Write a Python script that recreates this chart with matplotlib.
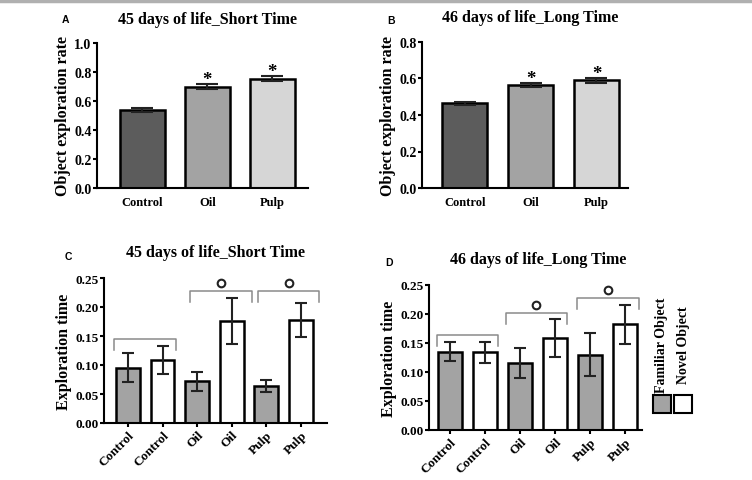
import matplotlib
matplotlib.use("Agg")
import matplotlib.pyplot as plt
from matplotlib.lines import Line2D
from matplotlib.patches import Rectangle

plt.rcParams['font.family'] = ['Liberation Serif', 'DejaVu Serif']
plt.rcParams['font.weight'] = 'bold'

# Panels A and B: exploration rate
groups = ["Control", "Oil", "Pulp"]
rate_short = [0.54, 0.70, 0.755]
rate_short_err = [0.015, 0.015, 0.015]
rate_long = [0.465, 0.565, 0.59]
rate_long_err = [0.008, 0.012, 0.015]
rate_colors = ["#5c5c5c", "#a3a3a3", "#d6d6d6"]

# Panels C and D: exploration time (familiar, novel per group)
time_labels = ["Control", "Control", "Oil", "Oil", "Pulp", "Pulp"]
time_short = [0.095, 0.109, 0.072, 0.176, 0.064, 0.178]
time_short_err = [0.025, 0.024, 0.016, 0.04, 0.011, 0.029]
time_long = [0.135, 0.134, 0.115, 0.159, 0.130, 0.182]
time_long_err = [0.016, 0.018, 0.026, 0.033, 0.037, 0.033]
time_colors = ["#a3a3a3", "white"] * 3

# brackets: (x start, x end, height, marked with circle)
brackets_short = [(-0.40, 1.38, 0.145, False), (1.79, 3.57, 0.228, True), (3.75, 5.53, 0.228, True)]
brackets_long = [(-0.37, 1.37, 0.163, False), (1.60, 3.34, 0.2025, True), (3.63, 5.40, 0.228, True)]

fig = plt.figure(figsize=(7.52, 4.81), dpi=100)
W, H = 752, 481


def px_axes(x0, y0, x1, y1):
    return fig.add_axes([x0 / W, 1 - y1 / H, (x1 - x0) / W, (y1 - y0) / H])


def style(ax, ylabel, tick_size):
    for s in ["top", "right"]:
        ax.spines[s].set_visible(False)
    for s in ["left", "bottom"]:
        ax.spines[s].set_linewidth(1.5)
    ax.tick_params(width=1.5, length=3, pad=1, labelsize=tick_size)
    ax.set_ylabel(ylabel, fontsize=11.5, fontweight='bold', labelpad=2)


def rate_panel(box, vals, errs, ymax, stars, xlim):
    ax = px_axes(*box)
    x = range(len(groups))
    ax.bar(x, vals, width=0.69, color=rate_colors, edgecolor='black', linewidth=1.8, zorder=2)
    ax.errorbar(x, vals, yerr=errs, fmt='none', ecolor='#222222', elinewidth=1.5,
                capsize=8, capthick=1.5, zorder=3)
    for i, v in enumerate(vals):
        if stars[i]:
            ax.text(i, v + errs[i], '*', ha='center', va='baseline',
                    fontsize=13.5, fontweight='bold')
    ax.set_xlim(*xlim)
    ax.set_ylim(0, ymax)
    n = int(round(ymax / 0.2)) + 1
    ax.set_yticks([0.2 * k for k in range(n)])
    ax.set_yticklabels([f"{0.2 * k:.1f}" for k in range(n)])
    ax.set_xticks(list(x))
    ax.set_xticklabels(groups)
    style(ax, "Object exploration rate", 10)
    ax.tick_params(axis='x', length=0, pad=6, labelsize=9)
    return ax


def time_panel(box, vals, errs, brackets, xlim):
    ax = px_axes(*box)
    x = range(len(vals))
    ax.bar(x, vals, width=0.69, color=time_colors, edgecolor='black', linewidth=1.8, zorder=2)
    ax.errorbar(x, vals, yerr=errs, fmt='none', ecolor='#222222', elinewidth=1.5,
                capsize=4, capthick=1.5, zorder=3)
    for (x0, x1, y, mark) in brackets:
        ax.plot([x0, x0, x1, x1], [y - 0.019, y, y, y - 0.019], color='#8a8a8a', lw=1.1,
                clip_on=False)
        if mark:
            ax.plot((x0 + x1) / 2, y + 0.0135, marker='o', ms=5.5, mfc='none', mec='#222222',
                    mew=1.5, clip_on=False)
    ax.set_xlim(*xlim)
    ax.set_ylim(0, 0.25)
    ax.set_yticks([0, 0.05, 0.10, 0.15, 0.20, 0.25])
    ax.set_yticklabels(["0.00", "0.05", "0.10", "0.15", "0.20", "0.25"])
    ax.set_xticks(list(x))
    ax.set_xticklabels(time_labels, rotation=45, ha='right', rotation_mode='anchor')
    style(ax, "Exploration time", 9.5)
    return ax


rate_panel((97, 44, 308, 189), rate_short, rate_short_err, 1.0, [False, True, True], (-0.7, 2.55))
rate_panel((422, 43, 628, 189), rate_long, rate_long_err, 0.8, [False, True, True], (-0.65, 2.48))
time_panel((104, 279, 327, 424), time_short, time_short_err, brackets_short, (-0.69, 5.75))
time_panel((429, 286, 642, 431), time_long, time_long_err, brackets_long, (-0.6, 5.49))

# titles and panel letters
titles = [("A", 65, 20, 208, 20, "45 days of life_Short Time"),
          ("B", 391, 21, 530, 18, "46 days of life_Long Time"),
          ("C", 68, 257, 215, 253, "45 days of life_Short Time"),
          ("D", 389, 263, 538, 260, "46 days of life_Long Time")]
for letter, lx, ly, tx, ty, title in titles:
    fig.text(lx / W, 1 - ly / H, letter, ha='center', va='center', fontsize=7.5,
             fontweight='bold', family=['Liberation Sans', 'DejaVu Sans'])
    fig.text(tx / W, 1 - ty / H, title, ha='center', va='center', fontsize=11.5, fontweight='bold')

# legend for C/D
fig.patches.append(Rectangle((653 / W, 1 - 414 / H), 18 / W, 18 / H, transform=fig.transFigure,
                             facecolor="#a3a3a3", edgecolor='black', linewidth=1.5))
fig.patches.append(Rectangle((674 / W, 1 - 414 / H), 18 / W, 18 / H, transform=fig.transFigure,
                             facecolor="white", edgecolor='black', linewidth=1.5))
fig.text(662 / W, 1 - 345 / H, "Familiar Object", rotation=90, ha='center', va='center',
         fontsize=10, fontweight='bold')
fig.text(684 / W, 1 - 345 / H, "Novel Object", rotation=90, ha='center', va='center',
         fontsize=10, fontweight='bold')

# grey rule at the top of the figure
fig.lines.append(Line2D([0, 1], [1 - 1.5 / H, 1 - 1.5 / H], transform=fig.transFigure,
                        color='#b0b0b0', lw=2.5))

fig.savefig("out.png", dpi=100)
